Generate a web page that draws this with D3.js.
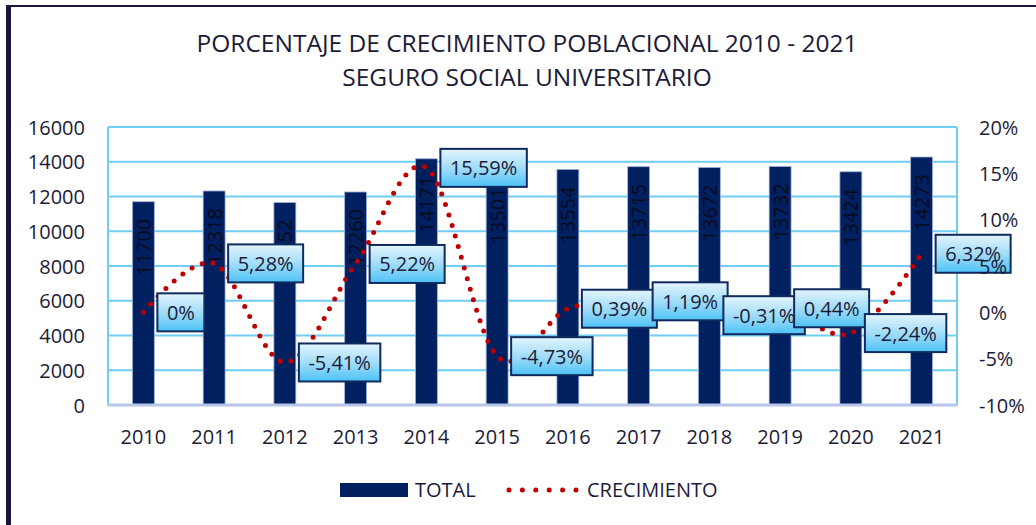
<!DOCTYPE html>
<html>
<head>
<meta charset="utf-8">
<script src="https://cdn.jsdelivr.net/npm/d3@7"></script>
<style>
  body { margin: 0; background: #fff; }
  svg text { font-family: 'Open Sans', 'Noto Sans', sans-serif; fill: #1b1b38; }
</style>
</head>
<body>
<svg id="chart" width="1036" height="525"></svg>
<script>
// chart data
const years = ['2010', '2011', '2012', '2013', '2014', '2015', '2016', '2017', '2018', '2019', '2020', '2021'];
const totals = [11700, 12318, 11652, 12260, 14171, 13501, 13554, 13715, 13672, 13732, 13424, 14273];
const growth = [0, 5.28, -5.41, 5.22, 15.59, -4.73, 0.39, 1.19, -0.31, 0.44, -2.24, 6.32];
const leftTicks = [0, 2000, 4000, 6000, 8000, 10000, 12000, 14000, 16000];
const rightTicks = [-10, -5, 0, 5, 10, 15, 20];
const titleLines = ['PORCENTAJE DE CRECIMIENTO POBLACIONAL 2010 - 2021', 'SEGURO SOCIAL UNIVERSITARIO'];

const svg = d3.select('#chart');

const plot = { left: 108, right: 957, top: 127, bottom: 405 };

const x = d3.scaleBand().domain(years)
  .range([plot.left, plot.right])
  .paddingInner(0.69).paddingOuter(0.345);
const yL = d3.scaleLinear().domain([0, 16000]).range([plot.bottom, plot.top]);
const yR = d3.scaleLinear().domain([-10, 20]).range([plot.bottom, plot.top]);
const cx = d => x(d) + x.bandwidth() / 2;

const pct = v => (v === 0 ? '0' : v.toFixed(2).replace('.', ',')) + '%';

// gradient for the data label boxes
const defs = svg.append('defs');
const grad = defs.append('linearGradient').attr('id', 'boxFill')
  .attr('x1', 0).attr('y1', 0).attr('x2', 0).attr('y2', 1);
grad.append('stop').attr('offset', '0%').attr('stop-color', '#e4f5fd');
grad.append('stop').attr('offset', '55%').attr('stop-color', '#9bdaf8');
grad.append('stop').attr('offset', '100%').attr('stop-color', '#4cc2f6');

// frame
svg.append('path')
  .attr('d', 'M8.5,525 L8.5,6 L1036,6')
  .attr('fill', 'none').attr('stroke', '#16163a').attr('stroke-width', 2);
svg.append('rect').attr('x', 6).attr('y', 5).attr('width', 5).attr('height', 520).attr('fill', '#16163a');

// title
svg.append('g').selectAll('text').data(titleLines).enter()
  .append('text')
  .attr('x', 527).attr('y', (d, i) => 52 + i * 34)
  .attr('text-anchor', 'middle')
  .attr('font-size', 24.5)
  .text(d => d);

// grid
svg.append('g').selectAll('line').data(leftTicks.slice(1)).enter()
  .append('line')
  .attr('x1', plot.left).attr('x2', plot.right)
  .attr('y1', d => yL(d)).attr('y2', d => yL(d))
  .attr('stroke', '#72cdf4').attr('stroke-width', 2);
svg.append('line').attr('x1', plot.left).attr('x2', plot.left)
  .attr('y1', plot.top).attr('y2', plot.bottom)
  .attr('stroke', '#72cdf4').attr('stroke-width', 2);
svg.append('line').attr('x1', plot.right).attr('x2', plot.right)
  .attr('y1', plot.top).attr('y2', plot.bottom)
  .attr('stroke', '#72cdf4').attr('stroke-width', 2);

// bars
svg.append('g').selectAll('rect').data(years).enter()
  .append('rect')
  .attr('x', d => x(d))
  .attr('y', (d, i) => yL(totals[i]))
  .attr('width', x.bandwidth())
  .attr('height', (d, i) => plot.bottom - yL(totals[i]))
  .attr('fill', '#002060')
  .attr('stroke', '#9fb3da').attr('stroke-width', 0.8);

// bottom axis line
svg.append('line').attr('x1', plot.left - 1).attr('x2', plot.right + 1)
  .attr('y1', plot.bottom).attr('y2', plot.bottom)
  .attr('stroke', '#b7c6e8').attr('stroke-width', 3);

// bar value labels (rotated, inside end)
svg.append('g').selectAll('text').data(years).enter()
  .append('text')
  .attr('transform', (d, i) => `translate(${cx(d)},${yL(totals[i]) + 17}) rotate(-90)`)
  .attr('text-anchor', 'end')
  .attr('dominant-baseline', 'central')
  .attr('font-size', 20)
  .style('fill', '#080a1e')
  .text((d, i) => totals[i]);

// growth line
const line = d3.line()
  .x((d, i) => cx(years[i]))
  .y(d => yR(d))
  .curve(d3.curveCardinal.tension(0));
svg.append('path').datum(growth)
  .attr('d', line)
  .attr('fill', 'none')
  .attr('stroke', '#c00000')
  .attr('stroke-width', 5)
  .attr('stroke-linecap', 'round')
  .attr('stroke-dasharray', '0 11');

// growth data labels
const lab = svg.append('g').selectAll('g').data(growth).enter()
  .append('g')
  .attr('transform', (d, i) => `translate(${cx(years[i]) + 14},${yR(d)})`);
lab.append('text')
  .attr('x', 9.5).attr('y', 0)
  .attr('dominant-baseline', 'central')
  .attr('font-size', 20)
  .text(d => pct(d));
lab.each(function () {
  const g = d3.select(this);
  const w = g.select('text').node().getComputedTextLength();
  g.insert('rect', 'text')
    .attr('x', 0).attr('y', -19)
    .attr('width', w + 19).attr('height', 38)
    .attr('fill', 'url(#boxFill)')
    .attr('stroke', '#0f2a5c').attr('stroke-width', 2);
});

// axes labels
svg.append('g').selectAll('text').data(leftTicks).enter()
  .append('text')
  .attr('x', 85).attr('y', d => yL(d))
  .attr('text-anchor', 'end')
  .attr('dominant-baseline', 'central')
  .attr('font-size', 20)
  .text(d => d);
svg.append('g').selectAll('text').data(rightTicks).enter()
  .append('text')
  .attr('x', 979).attr('y', d => yR(d))
  .attr('dominant-baseline', 'central')
  .attr('font-size', 20)
  .text(d => d + '%');
svg.append('g').selectAll('text').data(years).enter()
  .append('text')
  .attr('x', d => cx(d)).attr('y', 444)
  .attr('text-anchor', 'middle')
  .attr('font-size', 20)
  .text(d => d);

// legend
const legend = svg.append('g');
legend.append('rect').attr('x', 340).attr('y', 483).attr('width', 68).attr('height', 14).attr('fill', '#002060');
legend.append('text').attr('x', 415).attr('y', 497).attr('font-size', 20).text('TOTAL');
legend.append('line').attr('x1', 509).attr('x2', 576).attr('y1', 490).attr('y2', 490)
  .attr('stroke', '#c00000').attr('stroke-width', 5)
  .attr('stroke-linecap', 'round').attr('stroke-dasharray', '0 13.4');
legend.append('text').attr('x', 587).attr('y', 497).attr('font-size', 20).text('CRECIMIENTO');
</script>
</body>
</html>
